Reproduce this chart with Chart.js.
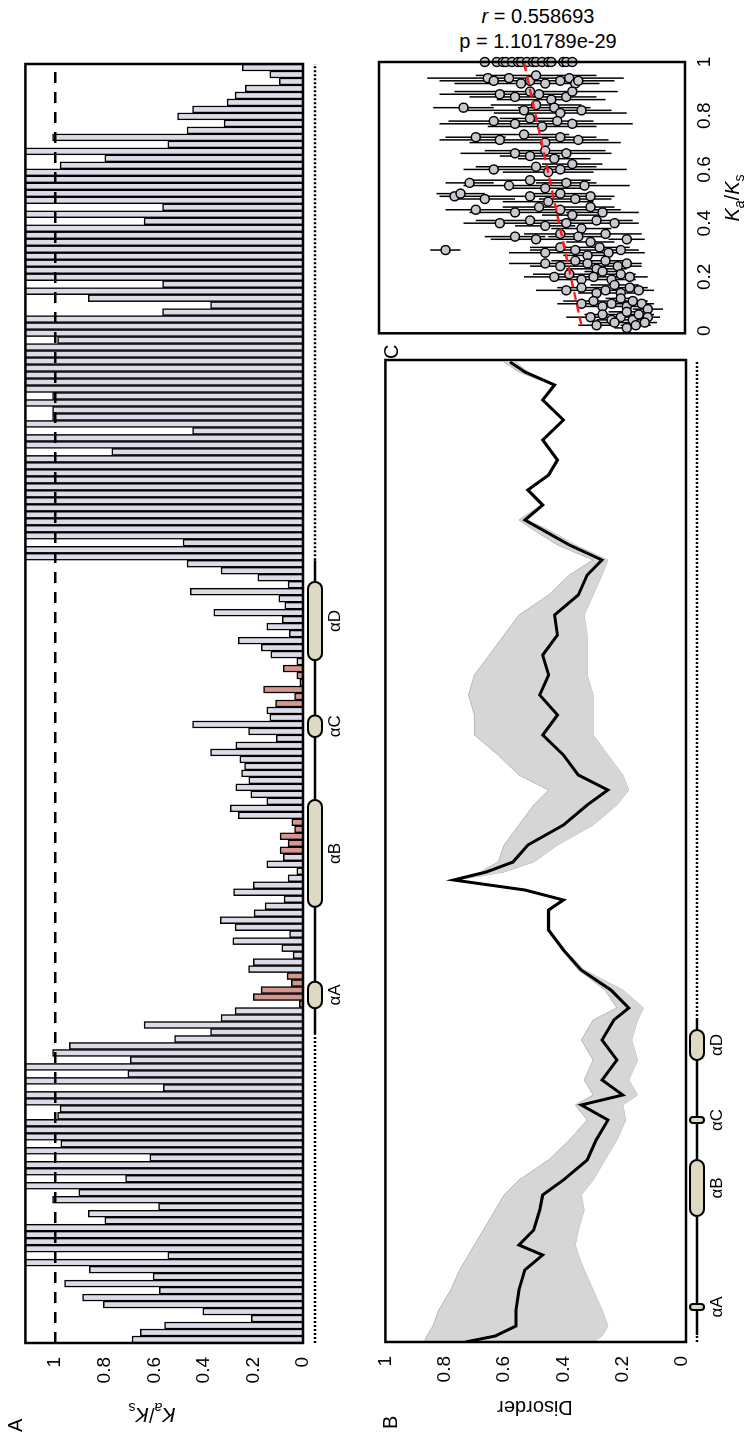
<!DOCTYPE html>
<html>
<head>
<meta charset="utf-8">
<script src="https://cdn.jsdelivr.net/npm/chart.js@4.4.1/dist/chart.umd.min.js"></script>
<style>
  body { margin: 0; background: #fff; width: 751px; height: 1439px; overflow: hidden; position: relative;
         font-family: "Liberation Sans", Arial, sans-serif; }
  /* the figure is drawn lying down (1439 x 751) and turned a quarter turn */
  #fig { position: absolute; left: 0; top: 0; width: 1439px; height: 751px;
         transform-origin: 0 0; transform: translate(0, 1439px) rotate(-90deg); }
  #fig canvas { position: absolute; }
  .lbl { position: absolute; font-size: 20px; line-height: 20px; color: #000; white-space: nowrap; }
  .vert { transform: translate(-50%, -50%) rotate(-90deg); }
  #stats { position: absolute; left: 538px; top: 4px; transform: translateX(-50%); text-align: center;
           font-size: 20px; line-height: 25px; white-space: nowrap; }
</style>
</head>
<body>
<div id="stats"><i>r</i> = 0.558693<br>p = 1.101789e-29</div>
<div id="fig">
  <canvas id="chartA" width="1439" height="360" style="left:0;top:0"></canvas>
  <canvas id="chartB" width="1100" height="391" style="left:0;top:360px"></canvas>
  <canvas id="chartC" width="344" height="391" style="left:1095px;top:360px"></canvas>
  <div class="lbl" style="left:7px;top:5px">A</div>
  <div class="lbl vert" style="left:27px;top:152px"><i>K<sub style="font-size:14px">a</sub></i>/<i>K</i><sub style="font-size:14px">s</sub></div>
  <div class="lbl" style="left:10px;top:380px">B</div>
  <div class="lbl vert" style="left:31px;top:535px">Disorder</div>
  <div class="lbl" style="left:1080px;top:381px">C</div>
  <div class="lbl" style="left:1241px;top:722px;transform:translateX(-50%)"><i>K<sub style="font-size:14px">a</sub></i>/<i>K</i><sub style="font-size:14px">s</sub></div>
</div>

<script>
// ---- panel A : Ka/Ks per codon (values above ~1.12 run off the box) ----
const kaksA = [
  0.69, 0.656, 0.558, 0.208, 0.404, 0.806, 0.889, 0.58, 0.962, 0.605, 0.862, 1.3, 0.545, 1.3, 1.3, 1.3, 1.3, 0.80, 0.866, 0.583,
  1.01, 0.904, 1.3, 0.716, 1.3, 1.3, 0.618, 1.3, 0.977, 1.3,
  1.3, 1.3, 0.99, 0.98, 1.3, 1.3, 0.564, 1.3, 0.707, 1.3, 0.697, 1.01, 0.943, 0.518, 0.373, 0.641, 0.331, 0.274, 0.015, 0.2,
  0.169, 0.047, 0.064, 0.22, 0.2, 0.04, 0.085, 0.283, 0.054, 0.274, 0.334,
  0.197, 0.153, 0.076, 0.28, 0.2, 0.06, 0.025, 0.146, 0.079, 0.092, 0.06, 0.092, 0.034, 0.045, 0.261, 0.293, 0.146, 0.21, 0.271,
  0.219, 0.248, 0.236, 0.255, 0.373, 0.271, 0.108, 0.22, 0.446, 0.134, 0.146,
  0.111, 0.034, 0.159, 0.013, 0.025, 0.079, 0.025, 0.13, 0.168, 0.261, 0.055, 0.146, 0.083, 0.36, 0.073, 0.098, 0.455, 0.06, 0.182,
  0.331, 0.468, 1.3, 1.3, 0.484, 1.3, 1.3, 1.3, 1.3, 1.3, 1.3, 1.3,
  1.3, 1.3, 1.3, 1.3, 1.3, 0.771, 1.3, 1.3, 0.446, 1.3, 1.01, 1.01, 1.3, 1.01, 1.3, 1.3, 1.3, 1.3, 1.3, 1.3,
  1.3, 0.99, 1.3, 1.3, 1.3, 0.567, 0.373, 0.866, 1.3, 0.567, 1.3,
  1.3, 1.3, 1.3, 1.3, 1.3, 1.3, 1.3, 0.641, 1.3, 0.567, 1.3, 1.3, 1.3, 1.3, 1.3, 0.98, 0.80, 1.3, 0.545, 1.01,
  0.468, 0.318, 0.506, 0.446, 0.306, 0.274, 0.233, 0.096, 0.134, 0.245
];
const redSitesA = [48, 49, 50, 51, 52, 70, 71, 72, 73, 74, 91, 92, 93, 94, 95, 96];
const codonsA = kaksA.map((v, i) => i + 1);
const ticksKaKs = [0, 0.2, 0.4, 0.6, 0.8, 1];
// domain schematic under A, in codon units
const domainNamesA = ['αA', 'αB', 'αC', 'αD'];
const domainStartA = [47.4, 61.9, 86.2, 97.2];
const domainEndA = [51.2, 77.2, 89.3, 108.4];
const coreA = [43.6, 111.5];

// ---- panel B : disorder along the alignment (mean with min-max band) ----
const posB = [0, 3, 8, 16, 26, 36, 43.5, 48.5, 56, 66, 73.5, 81, 91, 101, 111, 118.5, 123.5, 131, 141, 151, 161, 167,
  176, 186, 196, 206, 216, 221, 226, 231, 235, 240, 248.5, 258.5, 268.5, 276, 283.5, 293.5, 303.5, 313.5, 323.5, 333.5,
  343.5, 353.5, 363.5, 373.5, 383.5, 391, 398.5, 406, 411, 418.5, 426, 433.5, 441, 451, 461, 471, 478.5, 485, 490];
const meanB = [0.73, 0.63, 0.56, 0.56, 0.55, 0.53, 0.47, 0.55, 0.5, 0.48, 0.47, 0.40, 0.32, 0.29, 0.25, 0.34, 0.2, 0.27,
  0.22, 0.27, 0.23, 0.18, 0.24, 0.34, 0.40, 0.45, 0.45, 0.40, 0.53, 0.77, 0.66, 0.57, 0.52, 0.40, 0.32, 0.25, 0.35, 0.40,
  0.47, 0.42, 0.48, 0.45, 0.47, 0.42, 0.43, 0.35, 0.32, 0.27, 0.38, 0.47, 0.53, 0.47, 0.52, 0.45, 0.42, 0.47, 0.40, 0.47,
  0.43, 0.53, 0.58];
const hiB = [0.87, 0.86, 0.84, 0.82, 0.78, 0.75, 0.72, 0.7, 0.67, 0.63, 0.6, 0.55, 0.45, 0.38, 0.32, 0.36, 0.3, 0.33,
  0.3, 0.34, 0.3, 0.22, 0.26, 0.35, 0.405, 0.455, 0.455, 0.405, 0.54, 0.78, 0.68, 0.62, 0.6, 0.55, 0.5, 0.45, 0.55, 0.62,
  0.7, 0.7, 0.72, 0.7, 0.65, 0.6, 0.55, 0.45, 0.38, 0.3, 0.42, 0.5, 0.55, 0.475, 0.525, 0.455, 0.425, 0.475, 0.405, 0.475,
  0.435, 0.55, 0.6];
const loB = [0.3, 0.27, 0.25, 0.27, 0.3, 0.33, 0.35, 0.36, 0.35, 0.33, 0.34, 0.3, 0.26, 0.22, 0.19, 0.2, 0.15, 0.18,
  0.15, 0.17, 0.15, 0.13, 0.2, 0.33, 0.395, 0.445, 0.445, 0.395, 0.52, 0.76, 0.6, 0.5, 0.42, 0.3, 0.22, 0.18, 0.2, 0.25,
  0.3, 0.3, 0.3, 0.32, 0.32, 0.32, 0.33, 0.3, 0.27, 0.25, 0.36, 0.45, 0.52, 0.465, 0.515, 0.445, 0.415, 0.465, 0.395, 0.465,
  0.425, 0.52, 0.56];
const ticksDisorder = [0, 0.2, 0.4, 0.6, 0.8, 1];
const domainNamesB = ['αA', 'αB', 'αC', 'αD'];
const domainStartB = [16, 63, 109.5, 141];
const domainEndB = [19, 91, 112.5, 156];
const coreB = [3.5, 161];

// ---- panel C : disorder against Ka/Ks ----
const kaC = [
  1, 1, 1, 1, 1, 1, 1, 1, 1, 1, 1, 1, 1, 1, 1, 1,
  0.94, 0.93, 0.94, 0.92, 0.93, 0.95, 0.92, 0.93, 0.94, 0.92, 0.93,
  0.88, 0.87, 0.89, 0.88, 0.86, 0.87, 0.89,
  0.83, 0.82, 0.84, 0.83, 0.81, 0.82,
  0.78, 0.77, 0.79, 0.76, 0.78, 0.77,
  0.72, 0.71, 0.73, 0.7, 0.72, 0.71,
  0.66, 0.65, 0.67, 0.64, 0.66,
  0.6, 0.61, 0.59, 0.6, 0.62,
  0.55, 0.54, 0.56, 0.53, 0.55, 0.54,
  0.5, 0.51, 0.49, 0.5, 0.48, 0.51, 0.49, 0.5,
  0.45, 0.44, 0.46, 0.45, 0.43, 0.46, 0.44,
  0.4, 0.41, 0.39, 0.4, 0.38, 0.41, 0.4,
  0.35, 0.34, 0.36, 0.35, 0.33, 0.36, 0.34,
  0.3, 0.29, 0.31, 0.3, 0.28, 0.31, 0.29, 0.3,
  0.25, 0.24, 0.26, 0.25, 0.23, 0.26, 0.24, 0.25,
  0.2, 0.21, 0.19, 0.2, 0.22, 0.19, 0.21, 0.2,
  0.15, 0.16, 0.14, 0.15, 0.17, 0.14, 0.16, 0.15,
  0.1, 0.11, 0.09, 0.1, 0.12, 0.09, 0.11, 0.1, 0.08,
  0.05, 0.06, 0.04, 0.05, 0.07, 0.04, 0.06, 0.05,
  0.02, 0.03, 0.01, 0.02, 0.03
];
const disC = [
  0.65, 0.61, 0.59, 0.58, 0.56, 0.54, 0.53, 0.51, 0.49, 0.48, 0.46, 0.44, 0.43, 0.39, 0.38, 0.36,
  0.64, 0.62, 0.57, 0.53, 0.5, 0.48, 0.45, 0.4, 0.37, 0.35, 0.34,
  0.6, 0.55, 0.5, 0.47, 0.43, 0.38, 0.36,
  0.72, 0.52, 0.48, 0.42, 0.4, 0.33,
  0.62, 0.55, 0.5, 0.46, 0.41, 0.36,
  0.68, 0.6, 0.52, 0.45, 0.4, 0.34,
  0.55, 0.5, 0.45, 0.42, 0.38,
  0.62, 0.48, 0.44, 0.4, 0.36,
  0.7, 0.57, 0.5, 0.45, 0.38, 0.32,
  0.75, 0.73, 0.65, 0.5, 0.44, 0.4, 0.35, 0.3,
  0.68, 0.55, 0.47, 0.4, 0.36, 0.3, 0.26,
  0.6, 0.5, 0.45, 0.38, 0.33, 0.28, 0.22,
  0.55, 0.48, 0.4, 0.34, 0.3, 0.25, 0.18,
  0.78, 0.45, 0.4, 0.35, 0.31, 0.27, 0.24, 0.2,
  0.45, 0.4, 0.35, 0.31, 0.28, 0.25, 0.21, 0.18,
  0.42, 0.37, 0.33, 0.29, 0.26, 0.23, 0.2, 0.17,
  0.38, 0.33, 0.28, 0.25, 0.22, 0.2, 0.17, 0.14,
  0.33, 0.29, 0.26, 0.23, 0.2, 0.18, 0.16, 0.13, 0.11,
  0.3, 0.26, 0.23, 0.2, 0.18, 0.16, 0.14, 0.11,
  0.28, 0.22, 0.18, 0.15, 0.12
];
const errC = [
  0.02, 0.02, 0.02, 0.02, 0.02, 0.02, 0.02, 0.02, 0.02, 0.02, 0.02, 0.02, 0.02, 0.02, 0.02, 0.02,
  0.2, 0.18, 0.15, 0.22, 0.12, 0.2, 0.1, 0.15, 0.18, 0.08, 0.12,
  0.2, 0.15, 0.25, 0.12, 0.18, 0.1, 0.15,
  0.1, 0.2, 0.15, 0.12, 0.22, 0.1,
  0.15, 0.25, 0.1, 0.18, 0.12, 0.2,
  0.1, 0.2, 0.15, 0.25, 0.12, 0.1,
  0.18, 0.1, 0.2, 0.12, 0.15,
  0.1, 0.2, 0.15, 0.22, 0.1,
  0.08, 0.15, 0.2, 0.12, 0.1, 0.15,
  0.05, 0.08, 0.1, 0.2, 0.15, 0.1, 0.12, 0.08,
  0.1, 0.15, 0.12, 0.2, 0.1, 0.08, 0.12,
  0.12, 0.18, 0.1, 0.15, 0.1, 0.12, 0.08,
  0.1, 0.15, 0.12, 0.1, 0.08, 0.12, 0.06,
  0.05, 0.12, 0.1, 0.15, 0.08, 0.1, 0.12, 0.06,
  0.12, 0.1, 0.08, 0.12, 0.1, 0.06, 0.08, 0.05,
  0.1, 0.12, 0.08, 0.1, 0.06, 0.08, 0.05, 0.06,
  0.1, 0.08, 0.06, 0.1, 0.08, 0.05, 0.06, 0.05,
  0.08, 0.1, 0.06, 0.08, 0.05, 0.06, 0.05, 0.04, 0.05,
  0.08, 0.06, 0.05, 0.08, 0.06, 0.04, 0.05, 0.04,
  0.06, 0.05, 0.04, 0.05, 0.04
];
const fitKaKs = [0.02, 1];
const fitDisorder = [0.33, 0.52];

const FONT = 'Liberation Sans';
const lavender = '#dedbe9';
const brick = '#d5968f';

// frame round the plot area
const framePlugin = {
  id: 'frame',
  afterDraw(chart) {
    const { ctx, chartArea: a } = chart;
    ctx.save();
    ctx.lineWidth = 2.5;
    ctx.strokeStyle = '#000';
    ctx.strokeRect(a.left, a.top, a.width, a.height);
    ctx.restore();
  }
};

// dashed line at Ka/Ks = 1 in panel A
const neutralPlugin = {
  id: 'neutral',
  afterDatasetsDraw(chart) {
    const { ctx, chartArea: a, scales } = chart;
    const y = scales.y.getPixelForValue(1);
    ctx.save();
    ctx.lineWidth = 2.5;
    ctx.setLineDash([11, 9]);
    ctx.beginPath();
    ctx.moveTo(a.left, y);
    ctx.lineTo(a.right, y);
    ctx.stroke();
    ctx.restore();
  }
};

// dotted sequence line with helices as pills
function schematic(id, names, starts, ends, core, first, last, yPix) {
  return {
    id: id,
    afterDraw(chart) {
      const { ctx, scales } = chart;
      const xs = scales.x;
      ctx.save();
      ctx.strokeStyle = '#000';
      ctx.lineWidth = 2.5;
      ctx.setLineDash([2, 2]);
      ctx.beginPath();
      ctx.moveTo(xs.getPixelForValue(first), yPix);
      ctx.lineTo(xs.getPixelForValue(core[0]), yPix);
      ctx.moveTo(xs.getPixelForValue(core[1]), yPix);
      ctx.lineTo(xs.getPixelForValue(last), yPix);
      ctx.stroke();
      ctx.setLineDash([]);
      ctx.beginPath();
      ctx.moveTo(xs.getPixelForValue(core[0]), yPix);
      ctx.lineTo(xs.getPixelForValue(core[1]), yPix);
      ctx.stroke();
      ctx.font = '17px "' + FONT + '"';
      ctx.textAlign = 'center';
      ctx.textBaseline = 'top';
      names.forEach((n, i) => {
        const x0 = xs.getPixelForValue(starts[i]);
        const x1 = xs.getPixelForValue(ends[i]);
        ctx.beginPath();
        ctx.roundRect(x0, yPix - 7, x1 - x0, 14, 7);
        ctx.fillStyle = '#ddd9c2';
        ctx.fill();
        ctx.lineWidth = 2;
        ctx.stroke();
        ctx.fillStyle = '#000';
        ctx.fillText(n, (x0 + x1) / 2, yPix + 12);
      });
      ctx.restore();
    }
  };
}

const tickFont = { family: FONT, size: 19 };
const plainTick = v => String(v);

// Panel A
new Chart(document.getElementById('chartA'), {
  type: 'bar',
  data: {
    labels: codonsA,
    datasets: [{
      data: kaksA,
      backgroundColor: kaksA.map((v, i) => redSitesA.includes(i) ? brick : lavender),
      borderColor: '#000',
      borderWidth: 1.5,
      barPercentage: 1,
      categoryPercentage: 1
    }]
  },
  options: {
    responsive: false, animation: false, devicePixelRatio: 1,
    layout: { padding: { top: 8, right: 64, bottom: 57, left: 0 } },
    plugins: { legend: { display: false }, tooltip: { enabled: false } },
    scales: {
      x: { display: false },
      y: {
        min: 0, max: 1.12,
        afterFit(s) { s.width = 96; },
        afterBuildTicks(s) { s.ticks = ticksKaKs.map(v => ({ value: v })); },
        grid: { display: false, drawTicks: false },
        border: { display: false },
        ticks: { padding: 14, color: '#000', font: tickFont, callback: plainTick }
      }
    }
  },
  plugins: [neutralPlugin, framePlugin,
    schematic('schemA', domainNamesA, domainStartA, domainEndA, coreA, -0.5, kaksA.length - 0.5, 315)]
});

// Panel B
new Chart(document.getElementById('chartB'), {
  type: 'line',
  data: {
    datasets: [
      { data: posB.map((p, i) => ({ x: p, y: meanB[i] })), borderColor: '#000', borderWidth: 3,
        pointRadius: 0, fill: false, tension: 0, order: 0 },
      { data: posB.map((p, i) => ({ x: p, y: hiB[i] })), borderColor: '#b8b8b8', borderWidth: 1,
        backgroundColor: '#d6d6d6', pointRadius: 0, fill: 2, tension: 0, order: 1 },
      { data: posB.map((p, i) => ({ x: p, y: loB[i] })), borderColor: '#b8b8b8', borderWidth: 1,
        pointRadius: 0, fill: false, tension: 0, order: 1 }
    ]
  },
  options: {
    responsive: false, animation: false, devicePixelRatio: 1,
    layout: { padding: { top: 18, right: 21, bottom: 65, left: 0 } },
    plugins: { legend: { display: false }, tooltip: { enabled: false } },
    scales: {
      x: { type: 'linear', display: false, min: 0, max: 491 },
      y: {
        min: -0.013, max: 1,
        afterFit(s) { s.width = 97; },
        afterBuildTicks(s) { s.ticks = ticksDisorder.map(v => ({ value: v })); },
        grid: { display: false, drawTicks: false },
        border: { display: false },
        ticks: { padding: 14, color: '#000', font: tickFont, callback: plainTick }
      }
    }
  },
  plugins: [framePlugin,
    schematic('schemB', domainNamesB, domainStartB, domainEndB, coreB, 0, 491, 337)]
});

// Panel C
const errBars = [];
kaC.forEach((k, i) => {
  errBars.push({ x: k, y: disC[i] - errC[i] }, { x: k, y: disC[i] + errC[i] }, { x: k, y: null });
});
new Chart(document.getElementById('chartC'), {
  type: 'scatter',
  data: {
    datasets: [
      { type: 'line', data: errBars, borderColor: '#000', borderWidth: 1.5, pointRadius: 0,
        spanGaps: false, clip: false, order: 3 },
      { data: kaC.map((k, i) => ({ x: k, y: disC[i] })), backgroundColor: '#c9c8d0', borderColor: '#000',
        borderWidth: 1.5, pointRadius: 4.5, clip: false, order: 2 },
      { type: 'line', data: fitKaKs.map((k, i) => ({ x: k, y: fitDisorder[i] })), borderColor: '#ff1a1a',
        borderWidth: 2.5, borderDash: [8, 5], pointRadius: 0, order: 1 }
    ]
  },
  options: {
    responsive: false, animation: false, devicePixelRatio: 1,
    layout: { padding: { top: 19, right: 62, bottom: 26, left: 10 } },
    plugins: { legend: { display: false }, tooltip: { enabled: false } },
    scales: {
      x: {
        type: 'linear', min: -0.01, max: 1,
        afterFit(s) { s.height = 40; },
        afterBuildTicks(s) { s.ticks = ticksKaKs.map(v => ({ value: v })); },
        grid: { display: false, drawTicks: false },
        border: { display: false },
        ticks: { padding: 8, color: '#000', font: tickFont, maxRotation: 0, callback: plainTick }
      },
      y: { display: false, min: -0.013, max: 1 }
    }
  },
  plugins: [framePlugin]
});
</script>
</body>
</html>
